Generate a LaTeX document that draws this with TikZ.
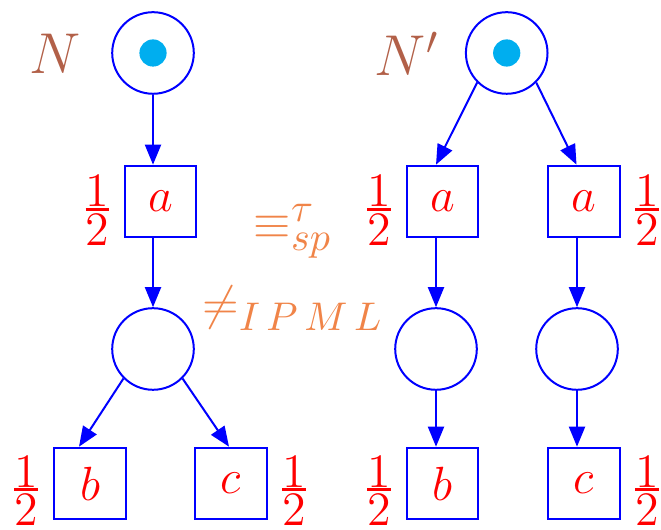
\documentclass[tikz,border=0pt]{standalone}
\usetikzlibrary{arrows.meta,calc}
\definecolor{netblue}{RGB}{0,0,255}
\definecolor{tokcyan}{RGB}{0,174,239}
\definecolor{labbrown}{RGB}{178,96,72}
\definecolor{eqorange}{RGB}{240,132,72}
\definecolor{labred}{RGB}{255,0,0}
\newcommand\hf{\vbox{\offinterlineskip\halign{\hfil##\hfil\cr 1\cr\noalign{\kern0.3pt\hrule height0.7pt\kern0.7pt}2\cr}}}
\newcommand\smallsz[1]{\mbox{\fontsize{10}{12}\selectfont$#1$}}
\begin{document}
\begin{tikzpicture}[x=0.25pt,y=-0.25pt,
  place/.style={circle,draw=netblue,line width=0.5pt,minimum size=20.4pt,inner sep=0pt},
  token/.style={circle,fill=tokcyan,minimum size=6.8pt,inner sep=0pt},
  trans/.style={rectangle,draw=netblue,line width=0.5pt,minimum size=17.9pt,inner sep=0pt,
    text=labred,font=\fontsize{12}{14}\selectfont},
  prob/.style={text=labred,inner sep=0pt,font=\fontsize{12}{14}\selectfont},
  netname/.style={text=labbrown,inner sep=0pt,font=\fontsize{14.4}{17}\selectfont},
  rel/.style={text=eqorange,inner sep=0pt,font=\fontsize{12}{14}\selectfont},
  arc/.style={draw=netblue,line width=0.5pt,-{Triangle[length=5pt,width=4pt]}}]
\useasboundingbox (0,0) rectangle (661,530);

% ---- left net N ----
\node[netname] (N) at (55,54) {$N$};
\node[place] (p1) at (153,53) {};
\node[token] (t1) at (p1) {};
\node[trans] (ta) at (160.5,201.5) {$a$};
\node[prob] (qa) at (97.5,210) {\hf};
\node[place] (p2) at (153,349) {};
\node[trans] (tb) at (90,483.5) {$b$};
\node[trans] (tc) at (231,483.5) {$c$};
\node[prob] (qb) at (26,490.5) {\hf};
\node[prob] (qc) at (294,490.5) {\hf};

\draw[arc] (p1.south) -- (p1 |- ta.north);
\draw[arc] (p2 |- ta.south) -- (p2.north);
\draw[arc] (p2.225) -- ($(tb.north)+(-11,0)$);
\draw[arc] (p2.315) -- ($(tc.north)+(-2,0)$);

% ---- relations ----
\node[rel] (eq) at (293,231.5) {$\equiv^{\smallsz{\tau}}_{\smallsz{sp}}$};
\node[rel] (neq) at (293,308) {$\neq_{\smallsz{I\,P\,M\,L}}$};

% ---- right net N' ----
\node[netname] (Np) at (407,54) {$N'$};
\node[place] (q1) at (506.7,53) {};
\node[token] (t2) at (q1) {};
\node[trans] (ta1) at (442.5,201.5) {$a$};
\node[trans] (ta2) at (584,201.5) {$a$};
\node[prob] (qa1) at (379,210) {\hf};
\node[prob] (qa2) at (647,210) {\hf};
\node[place] (q2) at (436,349) {};
\node[place] (q3) at (577,349) {};
\node[trans] (tb1) at (442.5,483.5) {$b$};
\node[trans] (tc1) at (584,483.5) {$c$};
\node[prob] (qb1) at (379,490.5) {\hf};
\node[prob] (qc1) at (647,490.5) {\hf};

\draw[arc] (q1.225) -- ($(ta1.north)+(-6.5,0)$);
\draw[arc] (q1.315) -- ($(ta2.north)+(-7.5,0)$);
\draw[arc] (q2 |- ta1.south) -- (q2.north);
\draw[arc] (q3 |- ta2.south) -- (q3.north);
\draw[arc] (q2.south) -- (q2 |- tb1.north);
\draw[arc] (q3.south) -- (q3 |- tc1.north);
\end{tikzpicture}
\end{document}
